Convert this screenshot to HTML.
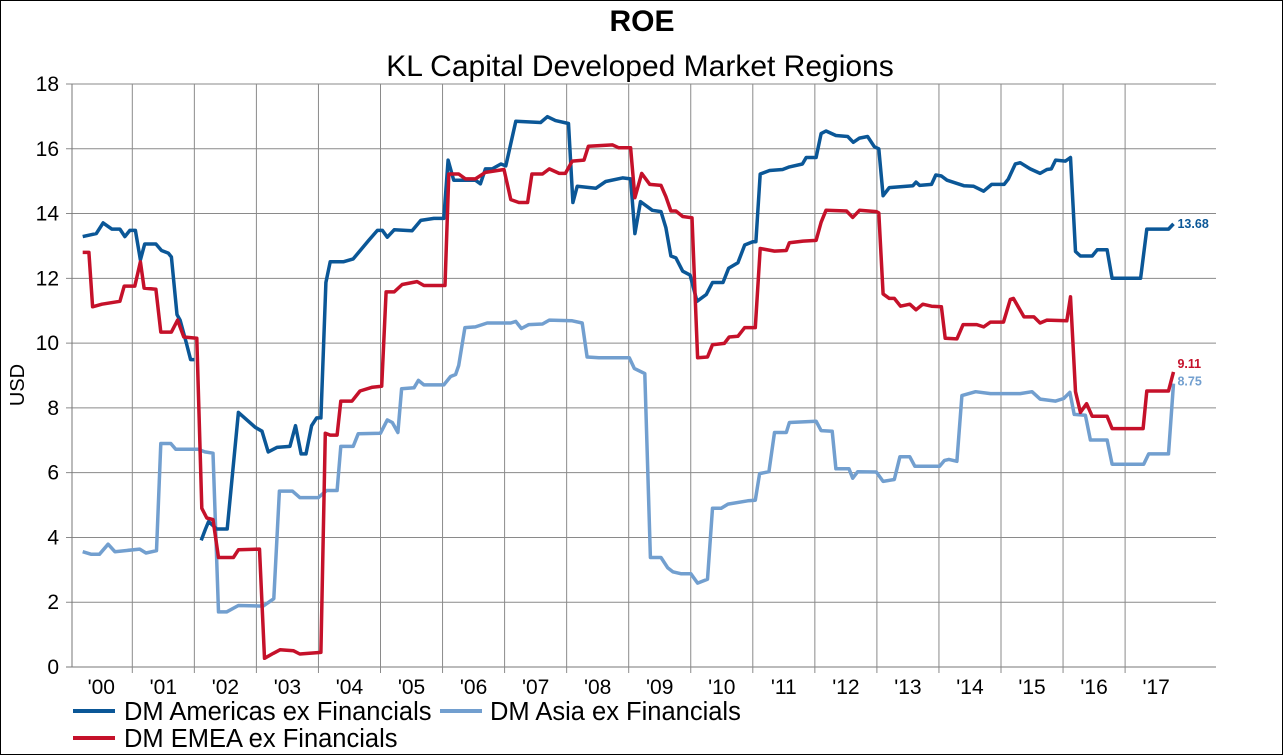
<!DOCTYPE html>
<html><head><meta charset="utf-8"><style>
html,body{margin:0;padding:0;background:#fff;}
svg{display:block;font-family:"Liberation Sans",Arial,sans-serif;}
</style></head><body>
<svg id="chart" width="1283" height="755" viewBox="0 0 1283 755" xmlns="http://www.w3.org/2000/svg">
<rect x="0.5" y="0.5" width="1282" height="754" fill="#fff" stroke="#000" stroke-width="1"/>
<text x="642" y="31" text-anchor="middle" font-size="30" font-weight="bold">ROE</text>
<text x="640" y="76" text-anchor="middle" font-size="30">KL Capital Developed Market Regions</text>
<text transform="translate(24,385) rotate(-90)" text-anchor="middle" font-size="20">USD</text>
<g id="grid"></g>
<g id="series"></g>
<g id="legend">
<line x1="73" y1="711" x2="115" y2="711" stroke="#0b5797" stroke-width="4"/>
<text x="124" y="720" font-size="25.5">DM Americas ex Financials</text>
<line x1="440" y1="711" x2="482" y2="711" stroke="#729fcf" stroke-width="4"/>
<text x="490" y="720" font-size="25.5">DM Asia ex Financials</text>
<line x1="73" y1="738" x2="115" y2="738" stroke="#c5112a" stroke-width="4"/>
<text x="124" y="747" font-size="25.5">DM EMEA ex Financials</text>
</g>
</svg>
<script>
const yTicks = [0,2,4,6,8,10,12,14,16,18];
const xTickLabels = ["'00","'01","'02","'03","'04","'05","'06","'07","'08","'09","'10","'11","'12","'13","'14","'15","'16","'17"];
const xTickYears = [2000,2001,2002,2003,2004,2005,2006,2007,2008,2009,2010,2011,2012,2013,2014,2015,2016,2017];

const amYears = [2000.2,2000.42,2000.53,2000.67,2000.8,2000.88,2000.96,2001.05,2001.13,2001.2,2001.38,2001.47,2001.58,2001.63,2001.72,2001.77,2001.87,2001.94,2002.0,2002.05,2002.11,2002.18,2002.23,2002.36,2002.53,2002.71,2002.98,2003.09,2003.19,2003.33,2003.54,2003.63,2003.72,2003.8,2003.89,2003.97,2004.04,2004.12,2004.19,2004.4,2004.56,2004.7,2004.81,2004.95,2005.03,2005.11,2005.22,2005.51,2005.65,2005.86,2006.02,2006.09,2006.18,2006.53,2006.61,2006.69,2006.8,2006.94,2007.02,2007.18,2007.58,2007.69,2007.82,2008.03,2008.1,2008.17,2008.47,2008.63,2008.9,2009.03,2009.1,2009.19,2009.38,2009.52,2009.6,2009.68,2009.76,2009.87,2009.99,2010.1,2010.25,2010.35,2010.52,2010.61,2010.76,2010.87,2011.0,2011.05,2011.12,2011.27,2011.48,2011.59,2011.8,2011.86,2012.02,2012.1,2012.18,2012.34,2012.53,2012.62,2012.72,2012.85,2012.96,2013.03,2013.1,2013.2,2013.58,2013.63,2013.69,2013.88,2013.95,2014.04,2014.13,2014.4,2014.56,2014.72,2014.85,2015.05,2015.12,2015.23,2015.31,2015.47,2015.63,2015.74,2015.81,2015.88,2016.04,2016.12,2016.2,2016.28,2016.47,2016.55,2016.71,2016.79,2017.25,2017.35,2017.7,2017.78];
const amValues = [13.29,13.38,13.71,13.52,13.52,13.29,13.48,13.48,12.57,13.06,13.06,12.86,12.78,12.66,10.88,10.71,10.01,9.49,9.49,null,3.91,4.26,4.49,4.26,4.26,7.86,7.40,7.28,6.64,6.78,6.81,7.45,6.58,6.58,7.45,7.69,7.69,11.87,12.51,12.51,12.6,12.92,13.17,13.48,13.48,13.27,13.5,13.47,13.79,13.85,13.85,15.65,15.03,15.03,14.92,15.38,15.38,15.53,15.47,16.85,16.81,16.99,16.87,16.78,14.34,14.84,14.78,14.99,15.1,15.07,13.38,14.37,14.1,14.06,13.56,12.69,12.63,12.22,12.1,11.29,11.5,11.87,11.87,12.31,12.48,13.03,13.13,13.13,15.22,15.33,15.36,15.44,15.53,15.73,15.73,16.47,16.55,16.41,16.38,16.2,16.33,16.38,16.06,16.0,14.55,14.8,14.86,14.97,14.87,14.9,15.19,15.16,15.03,14.86,14.84,14.69,14.9,14.9,15.07,15.53,15.57,15.38,15.24,15.36,15.38,15.65,15.62,15.73,12.83,12.69,12.69,12.88,12.88,12.0,12.0,13.52,13.52,13.68];

const emYears = [2000.2,2000.3,2000.36,2000.51,2000.8,2000.87,2001.04,2001.13,2001.19,2001.38,2001.46,2001.63,2001.73,2001.83,2002.04,2002.12,2002.2,2002.3,2002.39,2002.63,2002.71,2003.05,2003.13,2003.27,2003.38,2003.6,2003.7,2004.04,2004.11,2004.19,2004.3,2004.36,2004.54,2004.67,2004.87,2005.02,2005.09,2005.22,2005.35,2005.59,2005.7,2006.04,2006.1,2006.26,2006.37,2006.53,2006.69,2006.99,2007.1,2007.23,2007.37,2007.44,2007.61,2007.72,2007.88,2007.98,2008.09,2008.28,2008.35,2008.74,2008.84,2009.03,2009.1,2009.21,2009.34,2009.52,2009.6,2009.68,2009.76,2009.87,2010.02,2010.11,2010.27,2010.35,2010.54,2010.62,2010.76,2010.87,2011.04,2011.12,2011.35,2011.54,2011.59,2011.81,2012.02,2012.1,2012.18,2012.51,2012.61,2012.72,2012.99,2013.03,2013.1,2013.2,2013.28,2013.38,2013.53,2013.63,2013.74,2013.88,2014.04,2014.1,2014.29,2014.39,2014.61,2014.72,2014.83,2015.04,2015.15,2015.2,2015.37,2015.53,2015.63,2015.74,2016.06,2016.12,2016.2,2016.28,2016.38,2016.47,2016.71,2016.79,2017.29,2017.35,2017.7,2017.78];
const emValues = [12.8,12.8,11.12,11.2,11.29,11.76,11.76,12.51,11.7,11.66,10.34,10.34,10.71,10.19,10.15,4.9,4.6,4.55,3.38,3.38,3.62,3.64,0.27,0.42,0.53,0.5,0.4,0.45,7.22,7.16,7.16,8.21,8.21,8.52,8.64,8.67,11.58,11.58,11.81,11.9,11.78,11.78,15.22,15.22,15.07,15.07,15.27,15.36,14.43,14.34,14.34,15.22,15.22,15.38,15.24,15.24,15.62,15.65,16.08,16.12,16.03,16.03,14.49,15.24,14.9,14.87,14.52,14.08,14.08,13.91,13.87,9.55,9.57,9.95,9.99,10.19,10.21,10.48,10.48,12.92,12.84,12.86,13.1,13.15,13.17,13.73,14.1,14.08,13.88,14.1,14.06,14.02,11.52,11.38,11.38,11.14,11.2,11.03,11.2,11.14,11.12,10.15,10.13,10.57,10.57,10.5,10.65,10.65,11.35,11.38,10.81,10.81,10.62,10.71,10.69,11.43,8.5,7.86,8.13,7.74,7.74,7.36,7.36,8.52,8.52,9.11];

const asYears = [2000.2,2000.34,2000.47,2000.61,2000.72,2001.12,2001.22,2001.39,2001.46,2001.62,2001.7,2002.06,2002.17,2002.3,2002.39,2002.52,2002.71,2003.11,2003.28,2003.37,2003.58,2003.7,2004.0,2004.13,2004.3,2004.36,2004.56,2004.64,2005.0,2005.11,2005.19,2005.28,2005.34,2005.54,2005.61,2005.7,2006.02,2006.13,2006.21,2006.26,2006.36,2006.53,2006.72,2007.1,2007.18,2007.27,2007.39,2007.61,2007.72,2008.09,2008.25,2008.33,2008.52,2009.01,2009.09,2009.26,2009.35,2009.52,2009.63,2009.71,2009.84,2010.0,2010.11,2010.27,2010.35,2010.49,2010.6,2010.92,2011.04,2011.11,2011.26,2011.35,2011.54,2011.59,2012.02,2012.1,2012.28,2012.34,2012.55,2012.61,2012.69,2012.99,2013.1,2013.28,2013.37,2013.53,2013.61,2014.01,2014.09,2014.16,2014.29,2014.37,2014.59,2014.83,2015.31,2015.5,2015.63,2015.88,2016.01,2016.11,2016.18,2016.36,2016.44,2016.71,2016.79,2017.3,2017.38,2017.7,2017.78];
const asValues = [3.56,3.48,3.48,3.79,3.56,3.64,3.52,3.59,6.9,6.9,6.72,6.72,6.64,6.6,1.7,1.7,1.9,1.88,2.11,5.43,5.43,5.23,5.23,5.45,5.45,6.81,6.81,7.2,7.22,7.63,7.55,7.24,8.59,8.62,8.85,8.71,8.71,8.97,9.03,9.31,10.48,10.5,10.62,10.62,10.67,10.45,10.57,10.59,10.71,10.69,10.62,9.57,9.55,9.55,9.22,9.06,3.38,3.38,3.06,2.94,2.88,2.88,2.59,2.71,4.9,4.9,5.03,5.13,5.15,5.97,6.03,7.24,7.24,7.55,7.59,7.3,7.28,6.12,6.12,5.83,6.03,6.02,5.73,5.79,6.49,6.49,6.2,6.2,6.38,6.41,6.35,8.38,8.5,8.44,8.44,8.5,8.27,8.21,8.29,8.48,7.8,7.77,7.01,7.01,6.26,6.26,6.58,6.58,8.75];

const NS = 'http://www.w3.org/2000/svg';
const L = 72, R = 1216, T = 84, B = 667;
function xs(yr){ return 132.3 + (yr - 2001) * 62.05; }
function ys(v){ return B - (v / 18) * (B - T); }
function mk(tag, parent){ const e = document.createElementNS(NS, tag); parent.appendChild(e); return e; }

const grid = document.getElementById('grid');
yTicks.forEach(function(v){
  const ln = mk('line', grid);
  
  
  ln.setAttribute('x1', L - 6); ln.setAttribute('x2', R);
  ln.setAttribute('y1', ys(v)); ln.setAttribute('y2', ys(v));
  ln.setAttribute('stroke', v === 0 ? '#777' : '#8a8a8a'); ln.setAttribute('stroke-width', '1');
  const t = mk('text', grid);
  
  
  t.setAttribute('x', 59); t.setAttribute('y', ys(v) + 7);
  t.setAttribute('text-anchor', 'end'); t.setAttribute('font-size', '21');
  t.textContent = v;
});
xTickYears.forEach(function(yr, i){
  if (i > 0) {
    const ln = mk('line', grid);
    
    
    ln.setAttribute('x1', xs(yr)); ln.setAttribute('x2', xs(yr));
    ln.setAttribute('y1', T); ln.setAttribute('y2', B + 6);
    ln.setAttribute('stroke', '#8a8a8a'); ln.setAttribute('stroke-width', '1');
  }
  const t = mk('text', grid);
  
  
  t.setAttribute('x', xs(yr + 0.5)); t.setAttribute('y', 694);
  t.setAttribute('text-anchor', 'middle'); t.setAttribute('font-size', '21');
  t.textContent = xTickLabels[i];
});
const ax = mk('line', grid);


ax.setAttribute('x1', L); ax.setAttribute('x2', L); ax.setAttribute('y1', T); ax.setAttribute('y2', B);
ax.setAttribute('stroke', '#777'); ax.setAttribute('stroke-width', '1');

const sg = document.getElementById('series');
function drawSeries(years, vals, color, name){
  let d = ''; let pen = false;
  for (let i = 0; i < years.length; i++) {
    if (vals[i] === null) { pen = false; continue; }
    d += (pen ? 'L' : 'M') + xs(years[i]).toFixed(1) + ' ' + ys(vals[i]).toFixed(1) + ' ';
    pen = true;
  }
  const p = mk('path', sg);
  
  
  p.setAttribute('d', d);
  p.setAttribute('fill', 'none'); p.setAttribute('stroke', color);
  p.setAttribute('stroke-width', '3.5'); p.setAttribute('stroke-linejoin', 'round');
}
drawSeries(asYears, asValues, '#729fcf', 'asia-line');
drawSeries(amYears, amValues, '#0b5797', 'americas-line');
drawSeries(emYears, emValues, '#c5112a', 'emea-line');

function endLabel(years, vals, color, name, dy){
  const n = years.length - 1;
  const t = mk('text', sg);
  
  
  t.setAttribute('x', xs(years[n]) + 4); t.setAttribute('y', ys(vals[n]) + dy);
  t.setAttribute('font-size', '12.5'); t.setAttribute('font-weight', 'bold'); t.setAttribute('fill', color);
  t.textContent = vals[n].toFixed(2);
}
endLabel(amYears, amValues, '#0b5797', 'americas-end-label', 4);
endLabel(emYears, emValues, '#c5112a', 'emea-end-label', -4);
endLabel(asYears, asValues, '#729fcf', 'asia-end-label', 2);
</script>
</body></html>
